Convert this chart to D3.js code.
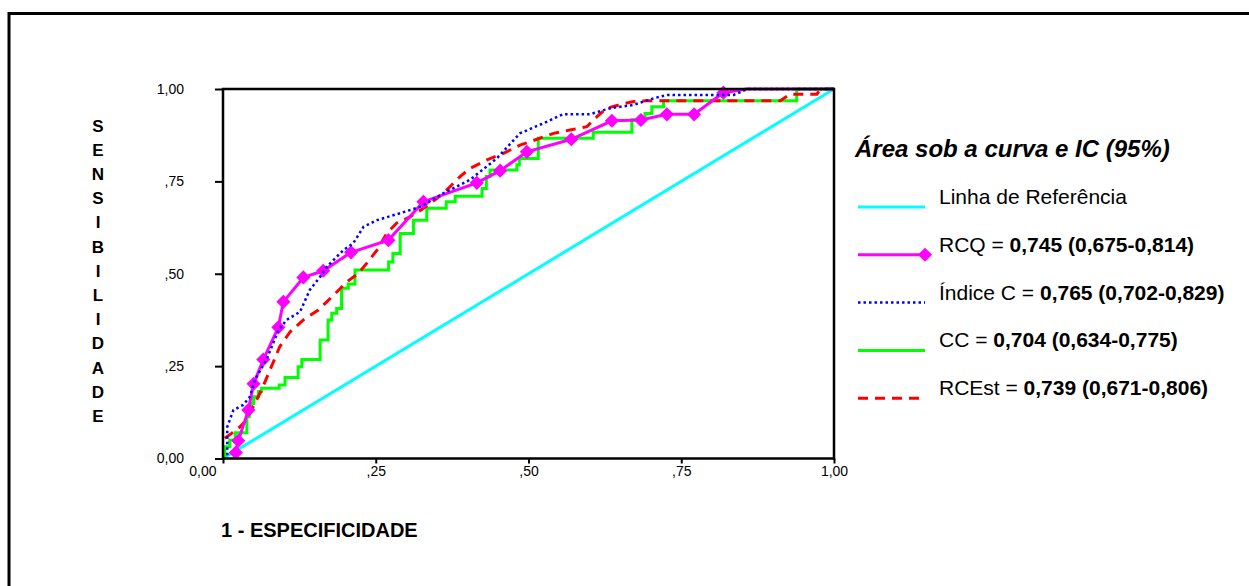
<!DOCTYPE html>
<html>
<head>
<meta charset="utf-8">
<script src="https://cdn.jsdelivr.net/npm/d3@7"></script>
<style>
  body { margin: 0; background: #fff; }
  svg { display: block; font-family: "Liberation Sans", Arial, sans-serif; }
</style>
</head>
<body>
<svg id="chart" width="1249" height="586"></svg>
<script>
// ROC curves (x = 1 - especificidade, y = sensibilidade)
var refX = [0, 1];
var refY = [0, 1];

var rcqX = [0.021, 0.025, 0.0415, 0.050, 0.066, 0.0906, 0.0988, 0.1315, 0.164, 0.2096, 0.2707, 0.328, 0.4154, 0.4536, 0.4973, 0.570, 0.6365, 0.684, 0.7265, 0.771, 0.819, 0.857, 1];
var rcqY = [0.016, 0.048, 0.131, 0.202, 0.268, 0.355, 0.424, 0.490, 0.508, 0.558, 0.591, 0.695, 0.746, 0.779, 0.830, 0.864, 0.914, 0.916, 0.9315, 0.9315, 0.990, 1, 1];
// last two points of RCQ have no marker
var rcqMarkerCount = 21;

var indiceCX = [0.007, 0.007, 0.017, 0.033, 0.044, 0.052, 0.072, 0.091, 0.104, 0.126, 0.142, 0.159, 0.170, 0.197, 0.213, 0.230, 0.252, 0.290, 0.323, 0.361, 0.404, 0.448, 0.486, 0.524, 0.557, 0.601, 0.634, 0.672, 0.705, 0.727, 0.836, 0.858, 1];
var indiceCY = [0.009, 0.086, 0.131, 0.145, 0.167, 0.212, 0.271, 0.348, 0.375, 0.397, 0.456, 0.492, 0.519, 0.564, 0.582, 0.627, 0.645, 0.664, 0.681, 0.718, 0.754, 0.812, 0.880, 0.907, 0.932, 0.932, 0.948, 0.957, 0.975, 0.984, 0.984, 1, 1];

// CC is a step curve: at each x the sensitivity jumps to y
var ccX = [0.003, 0.003, 0.011, 0.020, 0.039, 0.043, 0.047, 0.050, 0.058, 0.063, 0.092, 0.1015, 0.123, 0.129, 0.159, 0.172, 0.178, 0.186, 0.194, 0.205, 0.216, 0.271, 0.278, 0.290, 0.3116, 0.3335, 0.3654, 0.380, 0.424, 0.431, 0.437, 0.481, 0.485, 0.516, 0.606, 0.6692, 0.6907, 0.7018, 0.721, 0.939, 1];
var ccY = [0, 0.032, 0.050, 0.070, 0.113, 0.136, 0.149, 0.167, 0.181, 0.190, 0.199, 0.219, 0.248, 0.268, 0.321, 0.375, 0.393, 0.406, 0.461, 0.472, 0.510, 0.532, 0.555, 0.609, 0.645, 0.677, 0.695, 0.710, 0.731, 0.763, 0.781, 0.795, 0.812, 0.867, 0.883, 0.917, 0.934, 0.952, 0.968, 1, 1];

var rcestX = [0.003, 0.014, 0.028, 0.036, 0.041, 0.052, 0.063, 0.077, 0.093, 0.110, 0.1315, 0.156, 0.181, 0.2026, 0.2216, 0.235, 0.252, 0.268, 0.284, 0.306, 0.328, 0.361, 0.388, 0.404, 0.432, 0.459, 0.486, 0.514, 0.541, 0.568, 0.5955, 0.612, 0.628, 0.6555, 0.672, 0.694, 0.912, 0.928, 0.972, 0.978, 1];
var rcestY = [0.055, 0.068, 0.086, 0.100, 0.113, 0.149, 0.185, 0.240, 0.303, 0.343, 0.375, 0.402, 0.442, 0.478, 0.501, 0.528, 0.564, 0.609, 0.637, 0.654, 0.677, 0.718, 0.763, 0.785, 0.808, 0.826, 0.848, 0.864, 0.880, 0.889, 0.898, 0.925, 0.948, 0.960, 0.966, 0.968, 0.968, 0.986, 0.986, 1, 1];

var tickValues = [0, 0.25, 0.5, 0.75, 1];
var tickLabels = ["0,00", ",25", ",50", ",75", "1,00"];

var legendTitle = "Área sob a curva e IC (95%)";
var legendNames = ["Linha de Referência", "RCQ = ", "Índice C = ", "CC = ", "RCEst = "];
var legendValues = ["", "0,745 (0,675-0,814)", "0,765 (0,702-0,829)", "0,704 (0,634-0,775)", "0,739 (0,671-0,806)"];

var yTitle = "SENSIBILIDADE";
var xTitle = "1 - ESPECIFICIDADE";

var colors = {ref: "#00ffff", rcq: "#ff00ff", indice: "#0000ff", cc: "#00ff00", rcest: "#ff0000"};

var svg = d3.select("#chart");

// outer frame (only top and left edges are inside the picture)
svg.append("rect")
  .attr("x", 9).attr("y", 13.5)
  .attr("width", 1300).attr("height", 700)
  .attr("fill", "none").attr("stroke", "#000").attr("stroke-width", 3);

var plot = {left: 223, right: 834, top: 89, bottom: 458.5};

var x = d3.scaleLinear().domain([0, 1]).range([plot.left, plot.right]);
var y = d3.scaleLinear().domain([0, 1]).range([plot.bottom, plot.top]);

var fmt = function(d) { return tickLabels[tickValues.indexOf(d)]; };

var toPoints = function(xs, ys) {
  return xs.map(function(v, i) { return [v, ys[i]]; });
};

var line = d3.line().x(function(d) { return x(d[0]); }).y(function(d) { return y(d[1]); });
var stepLine = d3.line().curve(d3.curveStepAfter).x(function(d) { return x(d[0]); }).y(function(d) { return y(d[1]); });

var curves = svg.append("g");

curves.append("path")
  .attr("d", line(toPoints(refX, refY)))
  .attr("fill", "none").attr("stroke", colors.ref).attr("stroke-width", 3);

curves.append("path")
  .attr("d", stepLine(toPoints(ccX, ccY)))
  .attr("fill", "none").attr("stroke", colors.cc).attr("stroke-width", 3);

curves.append("path")
  .attr("d", line(toPoints(rcestX, rcestY)))
  .attr("fill", "none").attr("stroke", colors.rcest).attr("stroke-width", 3)
  .attr("stroke-dasharray", "10,7");

curves.append("path")
  .attr("d", line(toPoints(rcqX, rcqY)))
  .attr("fill", "none").attr("stroke", colors.rcq).attr("stroke-width", 3);

var diamond = d3.symbol().type(d3.symbolSquare).size(100);
curves.selectAll("path.rcq-marker")
  .data(toPoints(rcqX, rcqY).slice(0, rcqMarkerCount))
  .enter().append("path")
  .attr("class", "rcq-marker")
  .attr("d", diamond)
  .attr("transform", function(d) { return "translate(" + x(d[0]) + "," + y(d[1]) + ") rotate(45)"; })
  .attr("fill", colors.rcq);

curves.append("path")
  .attr("d", line(toPoints(indiceCX, indiceCY)))
  .attr("fill", "none").attr("stroke", colors.indice).attr("stroke-width", 2.5)
  .attr("stroke-dasharray", "2.5,3");

// plot frame + axes
svg.append("rect")
  .attr("x", plot.left).attr("y", plot.top)
  .attr("width", plot.right - plot.left).attr("height", plot.bottom - plot.top)
  .attr("fill", "none").attr("stroke", "#000").attr("stroke-width", 2.5);

var yAxis = svg.append("g")
  .attr("transform", "translate(" + plot.left + ",0)")
  .call(d3.axisLeft(y).tickValues(tickValues).tickFormat(fmt).tickSize(8).tickPadding(31));

var xAxis = svg.append("g")
  .attr("transform", "translate(0," + plot.bottom + ")")
  .call(d3.axisBottom(x).tickValues(tickValues).tickFormat(fmt).tickSize(5).tickPadding(3));

[yAxis, xAxis].forEach(function(ax) {
  ax.select(".domain").remove();
  ax.selectAll(".tick line").attr("stroke", "#000").attr("stroke-width", 2);
  ax.selectAll(".tick text").attr("font-family", "Liberation Sans, Arial, sans-serif").attr("font-size", 14).attr("fill", "#000");
});
// first x label sits left of the corner
xAxis.selectAll(".tick text").filter(function(d) { return d === 0; }).attr("text-anchor", "end").attr("x", -7);

// y title, one letter per row
svg.append("g").selectAll("text")
  .data(yTitle.split(""))
  .enter().append("text")
  .attr("x", 98)
  .attr("y", function(d, i) { return 126 + i * 24.2; })
  .attr("text-anchor", "middle")
  .attr("dominant-baseline", "central")
  .attr("font-size", 17).attr("font-weight", "bold")
  .text(function(d) { return d; });

svg.append("text")
  .attr("x", 221).attr("y", 537)
  .attr("font-size", 20).attr("font-weight", "bold")
  .text(xTitle);

// legend
var legend = svg.append("g");
legend.append("text")
  .attr("x", 855).attr("y", 157)
  .attr("font-size", 24).attr("font-weight", "bold").attr("font-style", "italic")
  .text(legendTitle);

var legendStyles = [
  {color: colors.ref, dash: null, width: 3},
  {color: colors.rcq, dash: null, width: 3},
  {color: colors.indice, dash: "2.5,3", width: 2.5},
  {color: colors.cc, dash: null, width: 3},
  {color: colors.rcest, dash: "10,7", width: 3}
];

legendNames.forEach(function(name, i) {
  var base = 204 + i * 47.8;
  var st = legendStyles[i];
  legend.append("line")
    .attr("x1", 858).attr("x2", 925)
    .attr("y1", base + 3).attr("y2", base + 3)
    .attr("stroke", st.color).attr("stroke-width", st.width)
    .attr("stroke-dasharray", st.dash);
  if (i === 1) {
    legend.append("path")
      .attr("d", diamond)
      .attr("transform", "translate(925," + (base + 3) + ") rotate(45)")
      .attr("fill", colors.rcq);
  }
  var t = legend.append("text").attr("x", 939).attr("y", base).attr("font-size", 21);
  t.append("tspan").text(name);
  if (legendValues[i]) t.append("tspan").attr("font-weight", "bold").text(legendValues[i]);
});
</script>
</body>
</html>
